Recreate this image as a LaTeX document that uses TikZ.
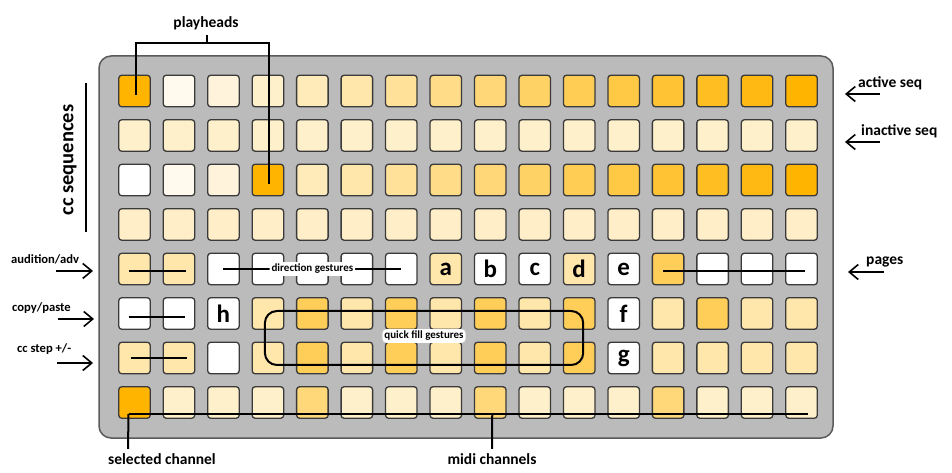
\documentclass[tikz,border=0pt]{standalone}
\usepackage{fontspec}
\setmainfont{Carlito}
\usetikzlibrary{arrows.meta,calc}
\definecolor{amb}{HTML}{FFB400}
\definecolor{panelgray}{HTML}{BBBBBB}
\definecolor{paneledge}{HTML}{5A5A5A}
\definecolor{celledge}{HTML}{3A3A3A}
\tikzset{
 cell/.style={draw=celledge, line width=1.3bp, rounded corners=3bp, minimum size=31.5bp, inner sep=0pt},
 ann/.style={line width=2bp, draw=black},
 arr/.style={line width=1.6bp, draw=black, -{Straight Barb[length=9bp,width=15bp]}},
 lbl/.style={font=\bfseries\fontsize{15.5bp}{18bp}\selectfont, inner sep=0pt},
 slbl/.style={font=\bfseries\fontsize{12.6bp}{15bp}\selectfont, inner sep=0pt},
 biglbl/.style={font=\bfseries\fontsize{20.5bp}{24bp}\selectfont, inner sep=0pt},
 tag/.style={fill=white, rounded corners=4bp, inner sep=2bp, font=\bfseries\fontsize{11bp}{13bp}\selectfont},
 letter/.style={font=\bfseries\fontsize{25bp}{27bp}\selectfont, inner sep=0pt},
}
\begin{document}
\begin{tikzpicture}[x=1bp,y=-1bp]
\useasboundingbox (0,0) rectangle (952,473);
\draw[fill=panelgray, draw=paneledge, line width=1.5bp, rounded corners=12bp] (99,56) rectangle (833,438);
\foreach \r/\lst in {
 0/{amb,amb!7,amb!14,amb!20,amb!27,amb!33,amb!40,amb!47,amb!53,amb!60,amb!67,amb!73,amb!80,amb!87,amb!93,amb},
 1/{amb!20,amb!20,amb!20,amb!20,amb!20,amb!20,amb!20,amb!20,amb!20,amb!20,amb!20,amb!20,amb!20,amb!20,amb!20,amb!20},
 2/{white,amb!7,amb!14,amb,amb!27,amb!33,amb!40,amb!47,amb!53,amb!60,amb!67,amb!73,amb!80,amb!87,amb!93,amb},
 3/{amb!22,amb!22,amb!22,amb!22,amb!22,amb!22,amb!22,amb!22,amb!22,amb!22,amb!22,amb!22,amb!22,amb!22,amb!22,amb!22},
 4/{amb!33,amb!33,white,white,white,white,white,amb!33,white,white,amb!33,white,amb!65,white,white,white},
 5/{white,white,white,amb!33,amb!65,amb!33,amb!65,amb!33,amb!65,amb!33,amb!65,white,amb!33,amb!65,amb!33,amb!33},
 6/{amb!33,amb!33,white,amb!33,amb!65,amb!33,amb!65,amb!33,amb!65,amb!33,amb!65,white,amb!33,amb!33,amb!33,amb!33},
 7/{amb,amb!20,amb!20,amb!20,amb!52,amb!20,amb!20,amb!20,amb!52,amb!20,amb!20,amb!20,amb!52,amb!20,amb!20,amb!20}}
{
 \foreach \col [count=\c from 0] in \lst
  \node[cell, fill=\col] (c-\r-\c) at ({134.5+44.47*\c},{91+44.5*\r}) {};
}
% letters
\node[letter] at (c-4-7) {a};
\node[letter] at (c-4-8) {b};
\node[letter] at (c-4-9) {c};
\node[letter] at (c-4-10) {d};
\node[letter] at (c-4-11) {e};
\node[letter] at (c-5-11) {f};
\node[letter] at (c-6-11) {g};
\node[letter] at (c-5-2) {h};
% playheads
\node[lbl, anchor=base] (phl) at (206,28) {playheads};
\coordinate (ph) at (207,43);
\coordinate (phtop) at (207,35);
\draw[ann] ($(c-0-0.center)+(1,4)$) |- (ph) -| ($(c-2-3.center)+(1,4)$);
\draw[ann] (ph) -- (phtop);
% cc sequences
\node[biglbl, rotate=90] (ccs) at (70,160) {cc sequences};
\coordinate (ccs1) at (86,83);
\coordinate (ccs2) at (86,232);
\draw[ann] (ccs1) -- (ccs2);
% right labels
\node[lbl, anchor=base west] (act) at (858,88) {active seq};
\coordinate (acta) at (880,94); \coordinate (actb) at (845,94);
\draw[arr] (acta) -- (actb);
\node[lbl, anchor=base west] (inact) at (861,136) {inactive seq};
\coordinate (ina) at (880,142); \coordinate (inb) at (845,142);
\draw[arr] (ina) -- (inb);
\node[lbl, anchor=base west] (pg) at (866,265) {pages};
\coordinate (pga) at (884,272); \coordinate (pgb) at (848,272);
\draw[arr] (pga) -- (pgb);
% left labels
\node[slbl, anchor=base west] (aud) at (11,264) {audition/adv};
\coordinate (auda) at (56,271); \coordinate (audb) at (93,271);
\draw[arr] (auda) -- (audb);
\node[slbl, anchor=base west] (cp) at (12,312) {copy/paste};
\coordinate (cpa) at (58,319); \coordinate (cpb) at (94,319);
\draw[arr] (cpa) -- (cpb);
\node[slbl, anchor=base west] (ccst) at (17,353) {cc step +/-};
\coordinate (ccsa) at (57,363); \coordinate (ccsb) at (93,363);
\draw[arr] (ccsa) -- (ccsb);
% row lines
\draw[ann] ($(c-4-0.center)+(-6,2)$) -- ($(c-4-1.center)+(7,2)$);
\draw[ann] ($(c-5-0.center)+(-6,3.5)$) -- ($(c-5-1.center)+(6,3.5)$);
\draw[ann] ($(c-6-0.center)+(-4,0)$) -- ($(c-6-1.center)+(8,0)$);
\draw[ann] ($(c-4-12.center)+(-5,2)$) -- ($(c-4-15.center)+(3,2)$);
\draw[ann] (c-4-2.center) -- (c-4-6.center) node[midway, tag] (dg) {direction gestures};
\draw[ann, rounded corners=12bp] ($(c-5-3.center)+(-3,-2.5)$) rectangle ($(c-6-10.center)+(4,7)$);
\node[tag] (qf) at (424,336) {quick fill gestures};
% bottom
\draw[ann] ($(c-7-0.center)+(-6,11.5)$) -- ($(c-7-15.center)+(6,11.5)$);
\node[lbl, anchor=base west] (sel) at (108,464) {selected channel};
\node[lbl, anchor=base] (midi) at (492,464) {midi channels};
\draw[ann] ($(c-7-0.center)+(-6,11.5)$) -- ($(sel.north west)+(20,-4)$);
\draw[ann] ($(c-7-8.center)+(2,11.5)$) -- ($(midi.north)+(0,-4)$);
\end{tikzpicture}
\end{document}
